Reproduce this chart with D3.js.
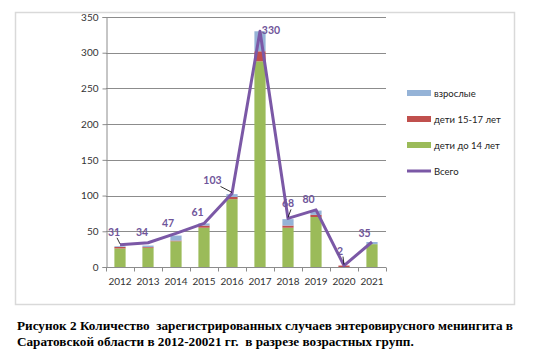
<!DOCTYPE html>
<html>
<head>
<meta charset="utf-8">
<script src="https://cdn.jsdelivr.net/npm/d3@7"></script>
<style>
  body { margin: 0; background: #fff; }
  svg { display: block; }
  .tick text { font-family: Lato, "Open Sans", sans-serif; font-size: 10px; fill: #333; }
  .caption { font-family: "Liberation Serif", "Times New Roman", serif; font-weight: bold; font-size: 13.2px; fill: #000; }
</style>
</head>
<body>
<svg id="chart" width="533" height="354"></svg>
<script>
// values
const years = ['2012', '2013', '2014', '2015', '2016', '2017', '2018', '2019', '2020', '2021'];
const kids14 = [26, 27, 36, 55, 95, 288, 55, 70, 0, 32];
const kids15 = [2, 1, 1, 3, 3, 14, 3, 3, 2, 0];
const adults = [1, 2, 7, 3, 4, 28, 9, 6, 0, 3];
const totals = [31, 34, 47, 61, 103, 330, 68, 80, 2, 35];
const yTicks = [0, 50, 100, 150, 200, 250, 300, 350];

const seriesNames = ['дети до 14 лет', 'дети 15-17 лет', 'взрослые'];
const seriesColours = ['#9bbb59', '#c0504d', '#95b3d7'];
const lineName = 'Всего';
const lineColour = '#7b58a6';

// where each data label sits relative to its point, and which get a leader line
const labelOffsets = [[-6, -9, true], [-6, -7], [-8, -6], [-6.5, -7], [-19.5, -9, true],
                      [11, 3], [0, -11, true], [-7.5, -7], [-4, -11, true], [-7.5, -5]];

const svg = d3.select('#chart');

// outer frame of the chart
svg.append('rect')
  .attr('x', 15.5).attr('y', 12.5).attr('width', 499).attr('height', 292)
  .attr('fill', 'none').attr('stroke', '#d9d9d9').attr('stroke-width', 1.5);

const x = d3.scaleBand().domain(years).range([106, 386]).paddingInner(0.6).paddingOuter(0.3);
const y = d3.scaleLinear().domain([0, 350]).range([267, 17]);

// grid lines
svg.append('g')
  .selectAll('line').data(yTicks.filter(d => d > 0)).enter().append('line')
    .attr('x1', 106).attr('x2', 386)
    .attr('y1', d => Math.round(y(d)) + 0.5).attr('y2', d => Math.round(y(d)) + 0.5)
    .attr('stroke', '#8c8c8c').attr('stroke-width', 1);

// stacked bars
const rows = years.map((yr, i) => ({ year: yr, k14: kids14[i], k15: kids15[i], ad: adults[i] }));
const stack = d3.stack().keys(['k14', 'k15', 'ad']);
const layers = stack(rows);

svg.append('g')
  .selectAll('g').data(layers).enter().append('g')
    .attr('fill', (d, i) => seriesColours[i])
  .selectAll('rect').data(d => d).enter().append('rect')
    .attr('x', d => x(d.data.year))
    .attr('width', x.bandwidth())
    .attr('y', d => y(d[1]))
    .attr('height', d => y(d[0]) - y(d[1]));

// axes
const yAxis = d3.axisLeft(y).tickValues(yTicks).tickSize(4).tickPadding(4);
svg.append('g')
  .attr('transform', 'translate(106.5,0)')
  .call(yAxis)
  .call(g => g.selectAll('line, path').attr('stroke', '#8c8c8c'));

const xAxis = d3.axisBottom(x).tickSize(0).tickPadding(10);
const xg = svg.append('g')
  .attr('transform', 'translate(0,267.5)')
  .call(xAxis);
xg.select('.domain').attr('stroke', '#8c8c8c').attr('d', 'M106,0H386');
// tick marks between categories
xg.selectAll('.sep').data(d3.range(years.length + 1)).enter().append('line')
  .attr('class', 'sep')
  .attr('x1', i => 106.5 + i * x.step()).attr('x2', i => 106.5 + i * x.step())
  .attr('y1', 0).attr('y2', 4)
  .attr('stroke', '#8c8c8c');

// total line
const cx = (d, i) => x(years[i]) + x.bandwidth() / 2;
const line = d3.line().x(cx).y(d => y(d));
svg.append('path')
  .datum(totals)
  .attr('d', line)
  .attr('fill', 'none')
  .attr('stroke', lineColour)
  .attr('stroke-width', 3)
  .attr('stroke-linejoin', 'round');

// data labels
const labels = svg.append('g');
totals.forEach((v, i) => {
  const px = cx(v, i), py = y(v);
  const [dx, dy, leader] = labelOffsets[i];
  if (leader) {
    labels.append('line')
      .attr('x1', px + dx + (dx < -10 ? 8 : 3)).attr('y1', py + dy + 2)
      .attr('x2', px).attr('y2', py - 1)
      .attr('stroke', '#000').attr('stroke-width', 0.8);
  }
  labels.append('text')
    .attr('x', px + dx).attr('y', py + dy)
    .attr('text-anchor', 'middle')
    .attr('font-family', 'Lato, "Open Sans", sans-serif')
    .attr('font-size', 10.5)
    .attr('font-weight', 'bold')
    .attr('fill', '#6f559a')
    .text(v);
});

// legend
const legendItems = [
  { name: seriesNames[2], colour: seriesColours[2], h: 6 },
  { name: seriesNames[1], colour: seriesColours[1], h: 6 },
  { name: seriesNames[0], colour: seriesColours[0], h: 6 },
  { name: lineName, colour: lineColour, h: 3 }
];
const legend = svg.append('g').attr('transform', 'translate(407,93)');
legend.selectAll('g').data(legendItems).enter().append('g')
  .attr('transform', (d, i) => `translate(0,${i * 26})`)
  .each(function (d) {
    const g = d3.select(this);
    g.append('rect').attr('x', 0).attr('y', -d.h / 2).attr('width', 24).attr('height', d.h).attr('fill', d.colour);
    g.append('text').attr('x', 27).attr('y', 3.5)
      .attr('font-family', 'Lato, "Open Sans", sans-serif')
      .attr('font-size', 9.5).attr('fill', '#222')
      .text(d.name);
  });

// caption under the chart
const caption = [
  'Рисунок 2 Количество  зарегистрированных случаев энтеровирусного менингита в',
  'Саратовской области в 2012-20021 гг.  в разрезе возрастных групп.'
];
svg.append('g').selectAll('text').data(caption).enter().append('text')
  .attr('class', 'caption')
  .attr('x', 17)
  .attr('y', (d, i) => 330 + i * 16)
  .attr('xml:space', 'preserve')
  .style('white-space', 'pre')
  .text(d => d);
</script>
</body>
</html>
